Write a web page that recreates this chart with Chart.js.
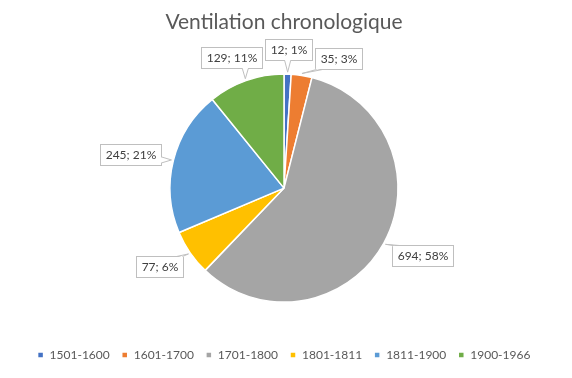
<!DOCTYPE html>
<html><head><meta charset="utf-8">
<script src="https://cdn.jsdelivr.net/npm/chart.js@4/dist/chart.umd.min.js"></script>
<style>html,body{margin:0;padding:0;background:#fff}</style>
</head><body><canvas id="c" width="572" height="378"></canvas>
<script>
const categories = ['1501-1600', '1601-1700', '1701-1800', '1801-1811', '1811-1900', '1900-1966'];
const counts = [12, 35, 694, 77, 245, 129];
const sliceColors = ['#4472C4', '#ED7D31', '#A5A5A5', '#FFC000', '#5B9BD5', '#70AD47'];
const chartTitle = 'Ventilation chronologique';

function overlap(a, b, g) {
  return !(a.x + a.w + g <= b.x || b.x + b.w + g <= a.x || a.y + a.h + g <= b.y || b.y + b.h + g <= a.y);
}

const calloutPlugin = {
  id: 'callouts',
  afterDatasetsDraw(chart) {
    const ctx = chart.ctx;
    const meta = chart.getDatasetMeta(0);
    const total = counts.reduce((s, v) => s + v, 0);
    ctx.save();
    ctx.font = '12px Lato';
    const placed = [];
    meta.data.forEach((arc, i) => {
      const p = arc.getProps(['x', 'y', 'startAngle', 'endAngle', 'outerRadius'], true);
      const text = counts[i] + '; ' + Math.round(counts[i] / total * 100) + '%';
      const w = Math.round(ctx.measureText(text).width + 10), h = 21;
      const mid = (p.startAngle + p.endAngle) / 2;
      let a = mid, box;
      for (let k = 0; k < 120; k++) {
        const c = Math.cos(a), s = Math.sin(a);
        const px = p.x + (p.outerRadius + 14) * c, py = p.y + (p.outerRadius + 14) * s;
        const cx = px + c * w / 2, cy = py + s * h / 2;
        box = {x: Math.round(cx - w / 2) + 0.5, y: Math.round(cy - h / 2) + 0.5, w, h};
        if (!placed.some(b => overlap(b, box, 3))) break;
        a += Math.PI / 180;
      }
      placed.push(box);
      const tx = p.x + (p.outerRadius + 2) * Math.cos(mid), ty = p.y + (p.outerRadius + 2) * Math.sin(mid);
      const qx = Math.min(Math.max(tx, box.x), box.x + box.w);
      const qy = Math.min(Math.max(ty, box.y), box.y + box.h);
      ctx.strokeStyle = '#BFBFBF';
      ctx.lineWidth = 1;
      ctx.fillStyle = '#FFFFFF';
      ctx.fillRect(box.x, box.y, box.w, box.h);
      ctx.strokeRect(box.x, box.y, box.w, box.h);
      let b1, b2, inset;
      const onVertical = (qx === box.x || qx === box.x + box.w) && qy > box.y && qy < box.y + box.h;
      if (onVertical) {
        const yy = Math.min(Math.max(qy, box.y + 4), box.y + box.h - 4);
        b1 = [qx, yy - 3]; b2 = [qx, yy + 3];
        inset = [qx === box.x ? 1 : -1, 0];
      } else {
        const xx = Math.min(Math.max(qx, box.x + 4), box.x + box.w - 4);
        b1 = [xx - 3, qy]; b2 = [xx + 3, qy];
        inset = [0, qy === box.y ? 1 : -1];
      }
      ctx.beginPath();
      ctx.moveTo(b1[0] + inset[0], b1[1] + inset[1]);
      ctx.lineTo(tx, ty);
      ctx.lineTo(b2[0] + inset[0], b2[1] + inset[1]);
      ctx.closePath();
      ctx.fill();
      ctx.beginPath();
      ctx.moveTo(b1[0], b1[1]);
      ctx.lineTo(tx, ty);
      ctx.lineTo(b2[0], b2[1]);
      ctx.stroke();
      ctx.fillStyle = '#404040';
      ctx.textAlign = 'center';
      ctx.textBaseline = 'middle';
      ctx.fillText(text, box.x + box.w / 2, box.y + box.h / 2 + 0.5);
    });
    ctx.restore();
  }
};

new Chart(document.getElementById('c'), {
  type: 'pie',
  data: {
    labels: categories,
    datasets: [{
      data: counts,
      backgroundColor: sliceColors,
      borderColor: '#FFFFFF',
      borderWidth: 1.5,
      radius: 114
    }]
  },
  options: {
    responsive: false,
    animation: false,
    devicePixelRatio: 1,
    layout: {padding: {left: 0, right: 4, top: 2, bottom: 7}},
    plugins: {
      title: {
        display: true,
        text: chartTitle,
        color: '#595959',
        font: {family: 'Lato', size: 21, weight: 'normal'},
        padding: {top: 8, bottom: 4}
      },
      legend: {
        position: 'bottom',
        labels: {
          boxWidth: 6,
          boxHeight: 6,
          color: '#595959',
          font: {family: 'Lato', size: 12},
          padding: 12
        }
      },
      tooltip: {enabled: false}
    }
  },
  plugins: [calloutPlugin]
});
</script>
</body></html>
